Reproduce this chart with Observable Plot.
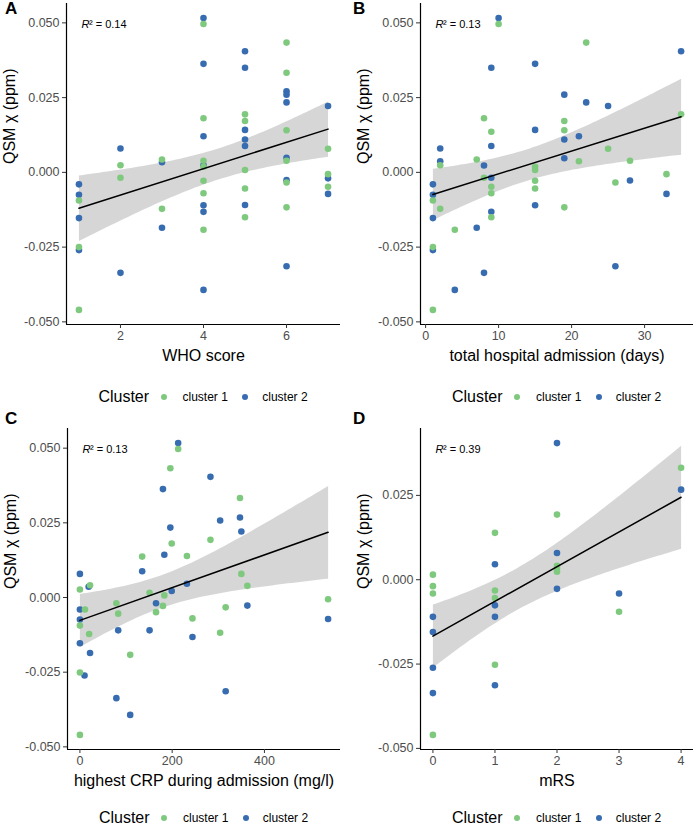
<!DOCTYPE html>
<html><head><meta charset="utf-8">
<script src="https://cdn.jsdelivr.net/npm/d3@7"></script>
<script src="https://cdn.jsdelivr.net/npm/@observablehq/plot@0.6"></script>
<style>
body{margin:0;background:#fff;font-family:"Liberation Sans",Arial,sans-serif;}
#fig{position:relative;width:696px;height:829px;overflow:hidden;background:#fff;}
.panel{position:absolute;}
.letter{position:absolute;font-weight:bold;font-size:17px;line-height:17px;color:#000;}
.legend{position:absolute;display:flex;justify-content:center;align-items:center;height:20px;color:#000;}
.legend .title{font-size:16px;}
.legend .lab{font-size:12px;}
.legend .dot{width:6px;height:6px;border-radius:50%;display:inline-block;}
</style></head><body><div id="fig"></div>
<script>
// ---------- data ----------
const clusterNames = ["cluster 1", "cluster 2"];
const clusterColors = ["#7FC97F", "#386CB0"];
const yTicks = [-0.05, -0.025, 0, 0.025, 0.05];

// Panel A: WHO score
const whoScore = [1,1,1,1,1,1,1, 2,2,2,2, 3,3,3,3, 4,4,4,4,4,4,4,4,4,4,4,4,4,4, 5,5,5,5,5,5,5,5,5,5,5, 6,6,6,6,6,6,6,6,6,6,6,6, 7,7,7,7,7,7];
const whoChi = [-0.004,-0.0075,-0.0094,-0.0153,-0.025,-0.026,-0.046,
  0.008,0.0024,-0.0018,-0.0336,
  0.0043,0.0034,-0.0122,-0.0185,
  0.0516,0.0496,0.0363,0.0181,0.0121,0.0039,0.0024,0.0019,-0.0028,-0.007,-0.011,-0.0132,-0.0192,-0.0393,
  0.0405,0.035,0.0194,0.0172,0.0142,0.011,0.0088,0.0008,-0.0054,-0.0109,-0.015,
  0.0434,0.0333,0.0271,0.026,0.0234,0.0141,0.0049,0.0039,-0.0026,-0.0034,-0.0117,-0.0314,
  0.0222,0.0079,-0.0006,-0.002,-0.0048,-0.0072];
const whoCluster = [2,2,1,2,1,2,1, 2,1,1,2, 1,2,1,2, 2,1,2,1,2,1,2,1,1,1,2,2,1,2, 2,2,1,1,2,2,2,1,1,2,1, 1,1,2,2,2,1,2,1,2,1,1,2, 2,1,1,2,1,2];
const whoTicks = [2, 4, 6];

// Panel B: total hospital admission (days)
const admDays = [1,1,1,1,1,1,1, 2,2,2,2, 4,4, 7,7, 8,8,8,8, 9,9,9,9,9,9,9,9, 10,10, 15,15,15,15,15,15,15, 19,19,19,19,19,19, 21,21, 22,22, 25,25, 26,26, 28,28, 33,33, 35,35];
const admChi = [-0.004,-0.0075,-0.0094,-0.0153,-0.025,-0.026,-0.046,
  0.008,0.0037,0.0024,-0.0122,
  -0.0192,-0.0393,
  -0.0185,0.0043,
  0.0181,0.0023,-0.0018,-0.0336,
  0.035,0.0136,0.0088,-0.0018,-0.0048,-0.007,-0.0132,-0.015,
  0.0516,0.0496,
  0.0363,0.0142,0.0019,0.0008,-0.0028,-0.0054,-0.011,
  0.026,0.0172,0.0141,0.011,0.0047,-0.0117,
  0.0121,0.0037,
  0.0434,0.0234,
  0.0222,0.0079,
  -0.0034,-0.0314,
  0.0039,-0.0027,
  -0.0006,-0.0072,
  0.0405,0.0194];
const admCluster = [2,2,1,2,1,2,1, 2,2,1,1, 1,2, 2,1, 1,2,1,2, 2,1,2,2,1,1,2,1, 2,1, 2,2,1,1,1,1,2, 2,1,1,2,2,1, 2,1, 1,2, 2,1, 1,2, 1,2, 1,2, 2,1];
const admTicks = [0, 10, 20, 30];

// Panel C: highest CRP during admission (mg/l)
const crp = [0,0,0,0,0,0,0,0, 11,10,19,22,20,22, 79,83,83,79, 109,109, 135,135, 151,151, 180,183,165,165,180,183,
  196,196,199,199, 213,213, 232,232, 244,244, 283,283, 304,304, 316,316, 347,347,350,350, 363,363, 538,538];
const crpChi = [0.0079,0.0027,-0.004,-0.0074,-0.0094,-0.0153,-0.0251,-0.046,
  -0.004,-0.0261,0.0036,0.0041,-0.0122,-0.0186,
  -0.0019,-0.0054,-0.011,-0.0337,
  -0.0192,-0.0393,
  0.0137,0.0088,
  0.0016,-0.011,
  0.0363,0.0143,-0.0019,-0.0049,-0.0028,0.0007,
  0.0433,0.0234,0.0181,0.0022,
  0.0517,0.0497,
  0.0139,0.0046,
  -0.007,-0.0132,
  0.0193,0.0404,
  0.0258,-0.0118,
  -0.0314,-0.0033,
  0.0333,0.0268,0.0221,0.0079,
  0.0039,-0.0027,
  -0.0006,-0.0072];
const crpCluster = [2,1,2,2,1,2,1,1, 1,2,2,1,1,2, 1,1,2,2, 1,2, 1,2, 1,2, 2,2,2,1,1,1, 1,2,1,2, 2,1, 1,2, 1,2, 1,2, 2,1, 2,1, 1,2,2,1, 1,2, 1,2];
const crpTicks = [0, 200, 400];

// Panel D: mRS
const mrs = [0,0,0,0,0,0,0,0, 1,1,1,1,1,1,1,1, 2,2,2,2,2,2,2, 3,3, 4,4];
const mrsChi = [0.0015,-0.0019,-0.0041,-0.011,-0.0155,-0.0261,-0.0336,-0.046,
  0.0139,0.0046,-0.0032,-0.0054,-0.0076,-0.011,-0.0252,-0.0313,
  0.0405,0.0193,0.0079,0.0041,0.0033,0.0024,-0.0027,
  -0.0041,-0.0095,
  0.0332,0.0267];
const mrsCluster = [1,1,1,2,2,2,2,1, 1,2,1,1,2,2,1,2, 2,1,2,1,1,1,2, 2,1, 1,2];
const mrsTicks = [0, 1, 2, 3, 4];

const r2Values = ["0.14", "0.13", "0.13", "0.39"];

// ---------- layout ----------
const panels = [
  {letter:"A", left:0,   top:0,   ml:66, mr:8, x:whoScore, y:whoChi, c:whoCluster, xTicks:whoTicks, xLabel:"WHO score", r2:r2Values[0], legendTop:387, letterTop:0},
  {letter:"B", left:348, top:0,   ml:72, mr:3, x:admDays, y:admChi, c:admCluster, xTicks:admTicks, xLabel:"total hospital admission (days)", r2:r2Values[1], legendTop:387, letterTop:0},
  {letter:"C", left:0,   top:425, ml:67, mr:8, x:crp, y:crpChi, c:crpCluster, xTicks:crpTicks, xLabel:"highest CRP during admission (mg/l)", r2:r2Values[2], legendTop:808, letterTop:410},
  {letter:"D", left:348, top:425, ml:72, mr:3, x:mrs, y:mrsChi, c:mrsCluster, xTicks:mrsTicks, xLabel:"mRS", r2:r2Values[3], legendTop:808, letterTop:410}
];

const fig = document.getElementById("fig");
const expand = (e) => { const s = e[1] - e[0]; return [e[0] - 0.05 * s, e[1] + 0.05 * s]; };
const fmt = (d) => d.toFixed(3);
const fmtX = (d) => String(d);

for (const p of panels) {
  const data = p.x.map((x, i) => ({x, y: p.y[i], c: clusterNames[p.c[i] - 1]}));
  // blue first, green on top
  data.sort((a, b) => (a.c === b.c ? 0 : a.c === "cluster 2" ? -1 : 1));
  const xd = expand(d3.extent(p.x));
  const yd = expand(d3.extent(p.y));
  const yt = yTicks.filter(t => t >= yd[0] && t <= yd[1]);

  const chart = Plot.plot({
    width: 348,
    height: 365,
    marginLeft: p.ml,
    marginRight: p.mr,
    marginTop: 3,
    marginBottom: 41,
    style: {fontFamily: "Liberation Sans, Arial, sans-serif", fontSize: "12.5px", background: "white", color: "black", overflow: "visible"},
    x: {domain: xd, label: null},
    y: {domain: yd, label: null},
    color: {domain: clusterNames, range: clusterColors},
    marks: [
      Plot.linearRegressionY(data, {x: "x", y: "y", z: null, ci: 0.95, stroke: "none", fill: "#999999", fillOpacity: 0.4}),
      Plot.dot(data, {x: "x", y: "y", fill: "c", r: 3.3, stroke: "none"}),
      Plot.linearRegressionY(data, {x: "x", y: "y", z: null, ci: 0, stroke: "black", strokeWidth: 1.5}),
      Plot.ruleX([xd[0]], {stroke: "black", strokeWidth: 1.2}),
      Plot.ruleY([yd[0]], {stroke: "black", strokeWidth: 1.2}),
      Plot.axisX({ticks: p.xTicks, tickSize: 4, tickPadding: 3, tickFormat: fmtX, label: null, stroke: "#333", fill: "#4d4d4d"}),
      Plot.axisY({ticks: yt, tickSize: 4, tickPadding: 3, tickFormat: fmt, label: null, stroke: "#333", fill: "#4d4d4d"}),
      Plot.text([p.xLabel], {text: d => d, frameAnchor: "bottom", dy: 31, fontSize: 16, fill: "black", lineAnchor: "middle"}),
      Plot.text(["QSM \u03C7 (ppm)"], {text: d => d, frameAnchor: "left", dx: -57, rotate: -90, fontSize: 16, fill: "black", lineAnchor: "middle"}),
      Plot.text(["R"], {text: d => d, frameAnchor: "top-left", dx: 15, dy: 21, fontSize: 11, fontStyle: "italic", textAnchor: "start", lineAnchor: "middle", fill: "black"}),
      Plot.text(["\u00B2 = " + p.r2], {text: d => d, frameAnchor: "top-left", dx: 22.5, dy: 21, fontSize: 11, textAnchor: "start", lineAnchor: "middle", fill: "black"})
    ]
  });
  const wrap = document.createElement("div");
  wrap.className = "panel";
  wrap.style.left = p.left + "px";
  wrap.style.top = p.top + "px";
  wrap.appendChild(chart);
  fig.appendChild(wrap);

  const letter = document.createElement("div");
  letter.className = "letter";
  letter.textContent = p.letter;
  letter.style.left = (p.left + 5) + "px";
  letter.style.top = p.letterTop + "px";
  fig.appendChild(letter);

  const lg = document.createElement("div");
  lg.className = "legend";
  lg.style.left = (p.left + p.ml) + "px";
  lg.style.width = (348 - p.ml - p.mr) + "px";
  lg.style.top = p.legendTop + "px";
  lg.innerHTML = `<span class="title">Cluster</span>` +
    `<span class="dot" style="background:${clusterColors[0]};margin-left:11.7px"></span>` +
    `<span class="lab" style="margin-left:15.7px">${clusterNames[0]}</span>` +
    `<span class="dot" style="background:${clusterColors[1]};margin-left:14.4px"></span>` +
    `<span class="lab" style="margin-left:14px">${clusterNames[1]}</span>`;
  fig.appendChild(lg);
}
</script></body></html>
